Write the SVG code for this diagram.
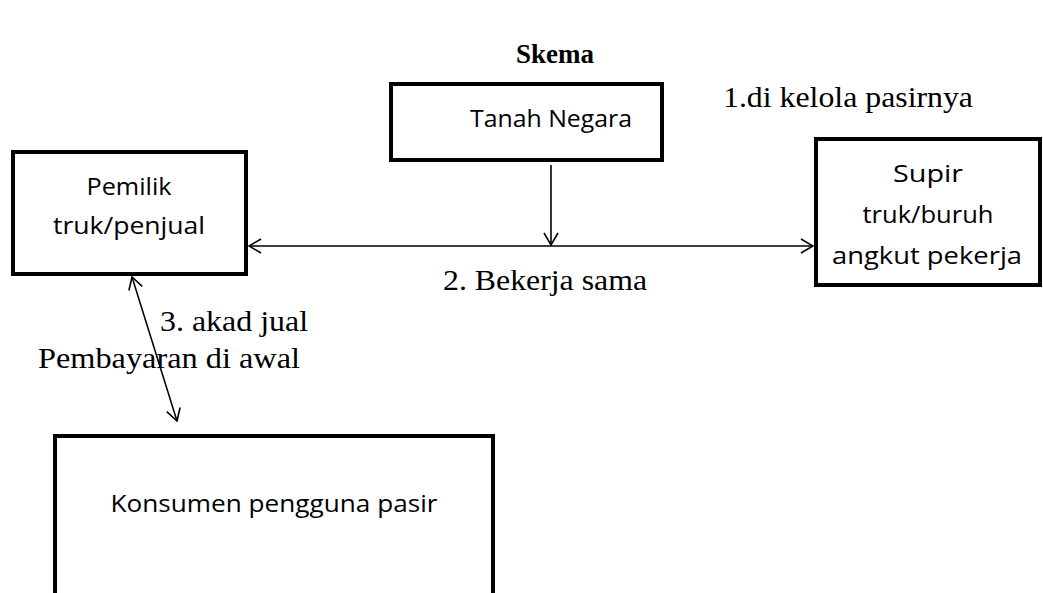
<svg xmlns="http://www.w3.org/2000/svg" width="1043" height="593" viewBox="0 0 1043 593">
<style>
.box{fill:#fff;stroke:#000;stroke-width:4}
.nt{font-family:"Open Sans","Noto Sans",sans-serif;font-size:24px;fill:#000;text-anchor:middle}
.lb{font-family:"Liberation Serif",serif;font-size:29px;fill:#000}
.conn{stroke:#000;stroke-width:1.6;fill:none}
</style>
<defs>
<marker id="ah" viewBox="0 0 14 16" refX="13" refY="8" markerWidth="14" markerHeight="16" markerUnits="userSpaceOnUse" orient="auto-start-reverse">
<path d="M1,1 L13,8 L1,15" fill="none" stroke="#000" stroke-width="1.6"/>
</marker>
</defs>
<rect width="1043" height="593" fill="#fff"/>
<text x="555" y="63" font-family="Liberation Serif,serif" font-size="27" font-weight="bold" text-anchor="middle">Skema</text>
<g id="tanah">
<rect class="box" x="391" y="84" width="271" height="76"/>
<text class="nt" x="551" y="127" textLength="162" lengthAdjust="spacingAndGlyphs">Tanah Negara</text>
</g>
<g id="pemilik">
<rect class="box" x="13" y="152" width="233" height="122"/>
<text class="nt" x="129" y="195" textLength="85" lengthAdjust="spacingAndGlyphs">Pemilik</text>
<text class="nt" x="129" y="234" textLength="152" lengthAdjust="spacingAndGlyphs">truk/penjual</text>
</g>
<g id="supir">
<rect class="box" x="816" y="139" width="224" height="146"/>
<text class="nt" x="928" y="182" textLength="70" lengthAdjust="spacingAndGlyphs">Supir</text>
<text class="nt" x="928" y="223" textLength="131" lengthAdjust="spacingAndGlyphs">truk/buruh</text>
<text class="nt" x="927" y="264" textLength="190" lengthAdjust="spacingAndGlyphs">angkut pekerja</text>
</g>
<g id="konsumen">
<rect class="box" x="55" y="436" width="438" height="170"/>
<text class="nt" x="274" y="512" textLength="327" lengthAdjust="spacingAndGlyphs">Konsumen pengguna pasir</text>
</g>
<g id="connectors">
<line class="conn" x1="551" y1="165" x2="551" y2="245" marker-end="url(#ah)"/>
<line class="conn" x1="249" y1="246" x2="813" y2="246" marker-start="url(#ah)" marker-end="url(#ah)"/>
<line class="conn" x1="132" y1="277" x2="177" y2="421" marker-start="url(#ah)" marker-end="url(#ah)"/>
</g>
<g id="labels">
<text class="lb" x="723" y="107" textLength="250" lengthAdjust="spacingAndGlyphs">1.di kelola pasirnya</text>
<text class="lb" x="443" y="290" textLength="204" lengthAdjust="spacingAndGlyphs">2. Bekerja sama</text>
<text class="lb" x="160" y="331" textLength="148" lengthAdjust="spacingAndGlyphs">3. akad jual</text>
<text class="lb" x="38" y="368" textLength="262" lengthAdjust="spacingAndGlyphs">Pembayaran di awal</text>
</g>
</svg>
